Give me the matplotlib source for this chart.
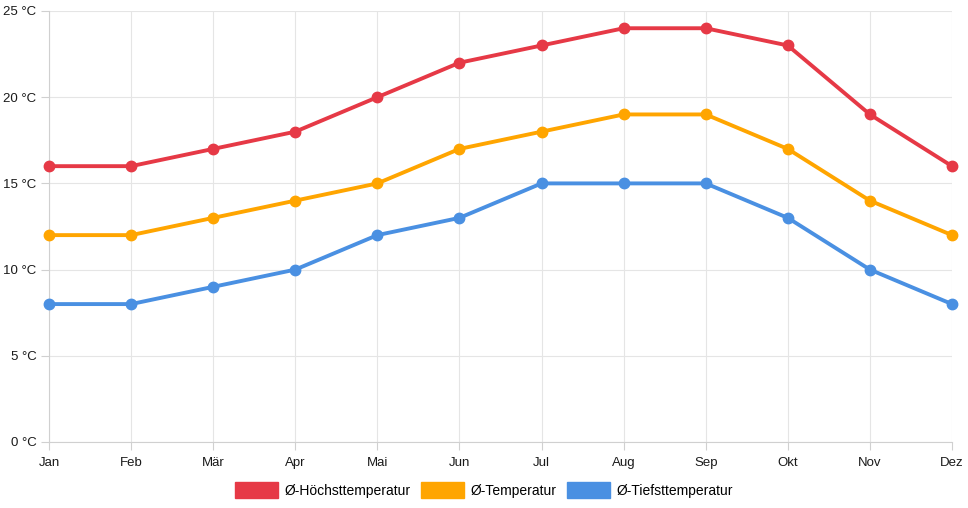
import matplotlib
matplotlib.use("Agg")
import matplotlib.pyplot as plt
from matplotlib.patches import Patch

months = ["Jan", "Feb", "Mär", "Apr", "Mai", "Jun", "Jul", "Aug", "Sep", "Okt", "Nov", "Dez"]
t_max = [16, 16, 17, 18, 20, 22, 23, 24, 24, 23, 19, 16]
t_mean = [12, 12, 13, 14, 15, 17, 18, 19, 19, 17, 14, 12]
t_min = [8, 8, 9, 10, 12, 13, 15, 15, 15, 13, 10, 8]
labels = ["Ø-Höchsttemperatur", "Ø-Temperatur", "Ø-Tiefsttemperatur"]
colors = ["#E63946", "#FFA500", "#4A90E2"]
yticks = [0, 5, 10, 15, 20, 25]

plt.rcParams['font.family'] = ['Liberation Sans', 'DejaVu Sans']
W, H = 968, 508
fig = plt.figure(figsize=(W/100, H/100), dpi=100)
ax = fig.add_axes([49/W, 1-442/H, (952-49)/W, (442-11)/H])

x = list(range(len(months)))
for ys, c in zip([t_max, t_mean, t_min], colors):
    ax.plot(x, ys, color=c, lw=2.8, marker='o', markersize=7.5, zorder=3, clip_on=False)

ax.set_xlim(0, len(months)-1)
ax.set_ylim(0, 25)
ax.set_xticks(x)
ax.set_xticklabels(months)
ax.set_yticks(yticks)
ax.set_yticklabels([f"{v} °C" for v in yticks])
ax.grid(True, color="#e5e5e5", lw=0.8)
for s in ["top", "right"]:
    ax.spines[s].set_visible(False)
for s in ["left", "bottom"]:
    ax.spines[s].set_color("#d0d0d0")
    ax.spines[s].set_linewidth(0.8)
ax.tick_params(axis='both', colors="#d0d0d0", labelcolor="#1a1a1a", labelsize=9.5, length=6, width=0.8)
ax.tick_params(axis='y', pad=3)
ax.tick_params(axis='x', pad=5)

handles = [Patch(facecolor=c, edgecolor=c) for c in colors]
fig.legend(handles, labels, loc='center', bbox_to_anchor=(0.5, 1-490/H), ncol=3, frameon=False,
           fontsize=10, handlelength=3.1, handleheight=1.3, handletextpad=0.5, columnspacing=0.7)

fig.savefig("out.png", dpi=100)
